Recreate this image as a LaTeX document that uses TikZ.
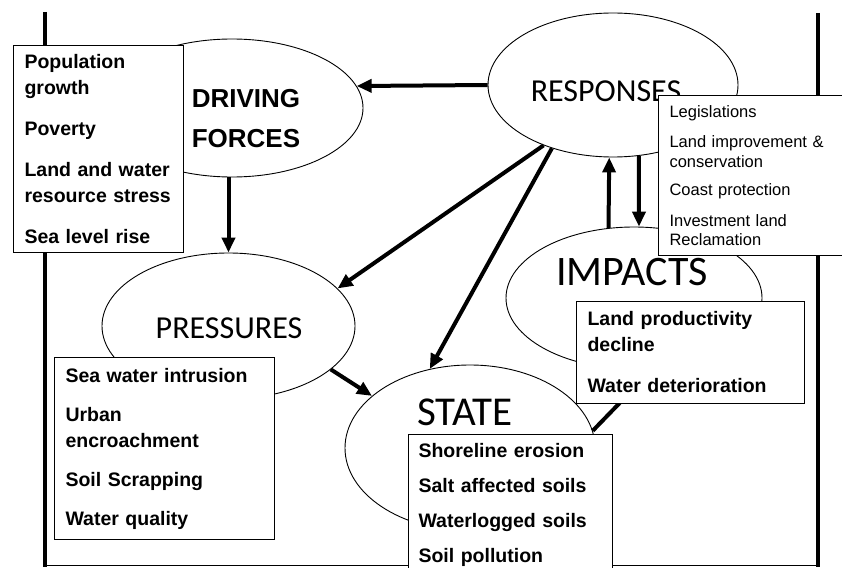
\documentclass[tikz,border=0pt]{standalone}
\usepackage{fontspec}
\setmainfont{Liberation Sans}
\newfontfamily\calibfont{Carlito}
\usetikzlibrary{arrows.meta,shapes.geometric}

\begin{document}
\begin{tikzpicture}[x=1pt,y=-1pt,>={Triangle[length=15pt,width=13pt]},
  ell/.style={draw,ellipse,line width=0.9pt,fill=white,inner sep=0pt},
  elltitle/.style={font=\fontsize{32}{38}\selectfont\calibfont,anchor=base},
  listbox/.style={draw,fill=white,line width=1pt,anchor=north west,align=left,
    inner xsep=11pt,inner ysep=0pt,font=\fontsize{19.5}{26}\selectfont\bfseries},
  link/.style={->,line width=4pt}]
  \clip (0,0) rectangle (842,567);

  % Frame
  \draw[line width=4.5pt] (45,12) -- (45,567);
  \draw[line width=4.5pt] (818,13) -- (818,567);
  \draw[line width=1.2pt] (45,565.5) -- (818,565.5);

  % Ellipses
  \node[ell,minimum width=262pt,minimum height=138pt] (df) at (232,108) {};
  \node[ell,minimum width=250pt,minimum height=144pt] (resp) at (613,85) {};
  \node[ell,minimum width=253pt,minimum height=146pt] (press) at (228.5,326) {};
  \node[ell,minimum width=256pt,minimum height=142pt] (imp) at (634,298) {};
  \node[ell,minimum width=250pt,minimum height=166pt] (state) at (470,448) {};

  \node[font=\fontsize{26}{40}\selectfont\bfseries,align=center] (dfTitle) at (246,119) {DRIVING\\FORCES};
  \node[elltitle] (respTitle) at (606,102) {RESPONSES};
  \node[elltitle] (pressTitle) at (229,338) {PRESSURES};
  \node[elltitle,font=\fontsize{41}{48}\selectfont\calibfont] (stateTitle) at (465,425) {STATE};
  \node[elltitle,font=\fontsize{42}{48}\selectfont\calibfont] (impTitle) at (632,285) {IMPACTS};

  % Links
  \draw[link] (resp.west) -- (df.10);
  \draw[link] (df.south -| press.north) -- (press.north);
  \draw[link] (resp.221) -- (press.19);
  \draw[link] (resp.226) -- (state.117);
  \draw[link] (imp.110) -- (resp.267);
  \draw[link] (resp.290) -- (imp.86);
  \draw[link] (press.337) -- (state.152);
  \draw[link] (state.8) -- (imp.285);

  % Lists
  \node[listbox,minimum width=170pt,minimum height=207pt,text width=148pt] (dfList) at (13,45)
    {Population\\growth\\[15pt]Poverty\\[15pt]Land and water\\resource stress\\[15pt]Sea level rise};
  \node[listbox,font=\fontsize{16.5}{19.5}\selectfont,minimum width=184pt,minimum height=160pt,
    text width=162pt] (respList) at (658,95)
    {Legislations\\[11pt]Land improvement \&\\conservation\\[9pt]Coast protection\\[11pt]Investment land\\Reclamation};
  \node[listbox,minimum width=220pt,minimum height=182pt,text width=198pt] (pressList) at (54,357)
    {Sea water intrusion\\[13pt]Urban\\encroachment\\[13pt]Soil Scrapping\\[13pt]Water quality};
  \node[listbox,minimum width=228pt,minimum height=102pt,text width=206pt] (impList) at (576,301)
    {Land productivity\\decline\\[15pt]Water deterioration};
  \node[listbox,font=\fontsize{19.5}{35}\selectfont\bfseries,minimum width=204pt,minimum height=141pt,
    text width=184pt,inner xsep=10pt] (stateList) at (408,434)
    {Shoreline erosion\\Salt affected soils\\Waterlogged soils\\Soil pollution};
\end{tikzpicture}
\end{document}
